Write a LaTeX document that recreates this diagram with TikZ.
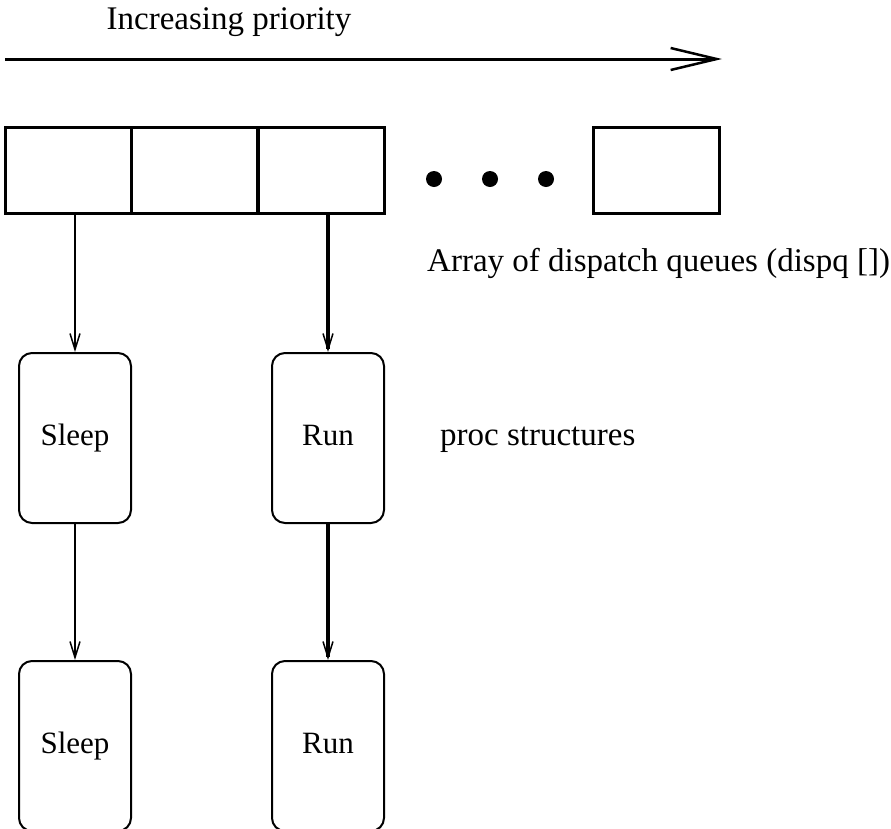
\documentclass[tikz,border=0pt]{standalone}
\usepackage{fontspec}
\setmainfont{Liberation Serif}
\usetikzlibrary{arrows.meta}
\begin{document}
\begin{tikzpicture}[x=1pt,y=-1pt,
  lbl/.style={font=\fontsize{33}{36}\selectfont, inner sep=0pt},
  cell/.style={draw, line width=3pt, minimum width=126pt, minimum height=86pt, inner sep=0pt},
  proc/.style={draw, line width=2pt, rounded corners=13pt, minimum width=112pt, minimum height=170pt, inner sep=0pt,
    font=\fontsize{31}{34}\selectfont, text height=22pt, text depth=7pt},
  link/.style={line width=2pt, -{Straight Barb[length=16pt, width=10pt, line width=1.5pt]}},
  dot/.style={circle, fill, inner sep=0pt, minimum size=16pt}]
\useasboundingbox (0,0) rectangle (891,828);
\clip (0,0) rectangle (891,828);

% priority axis
\node[lbl] (title) at (229,22) {Increasing priority};
\coordinate (axL) at (5,59);
\coordinate (axR) at (722,59);
\draw[line width=3pt, -{Straight Barb[length=46pt, width=22pt, line width=2.5pt]}] (axL) -- (axR);

% dispatch queue array
\node[cell] (q1) at (68.5,170) {};
\node[cell] (q2) at (194.5,170) {};
\node[cell] (q3) at (321.5,170) {};
\node[cell] (qn) at (656.5,170) {};
\node[dot] (d1) at (434,179) {};
\node[dot] (d2) at (490,179) {};
\node[dot] (d3) at (546,179) {};
\node[lbl, anchor=west] (arrlbl) at (427,263) {Array of dispatch queues (dispq [])};

% proc structures
\node[proc] (s1) at (75,438) {Sleep};
\node[proc] (r1) at (328,438) {Run};
\node[proc] (s2) at (75,746) {Sleep};
\node[proc] (r2) at (328,746) {Run};
\node[lbl, anchor=west] (proclbl) at (440,440) {proc structures};

% queue links
\draw[link] (q1.south -| s1.north) -- (s1.north);
\draw[link, line width=3.5pt] (q3.south -| r1.north) -- (r1.north);
\draw[link] (s1.south) -- (s2.north);
\draw[link, line width=3.5pt] (r1.south) -- (r2.north);
\end{tikzpicture}
\end{document}
